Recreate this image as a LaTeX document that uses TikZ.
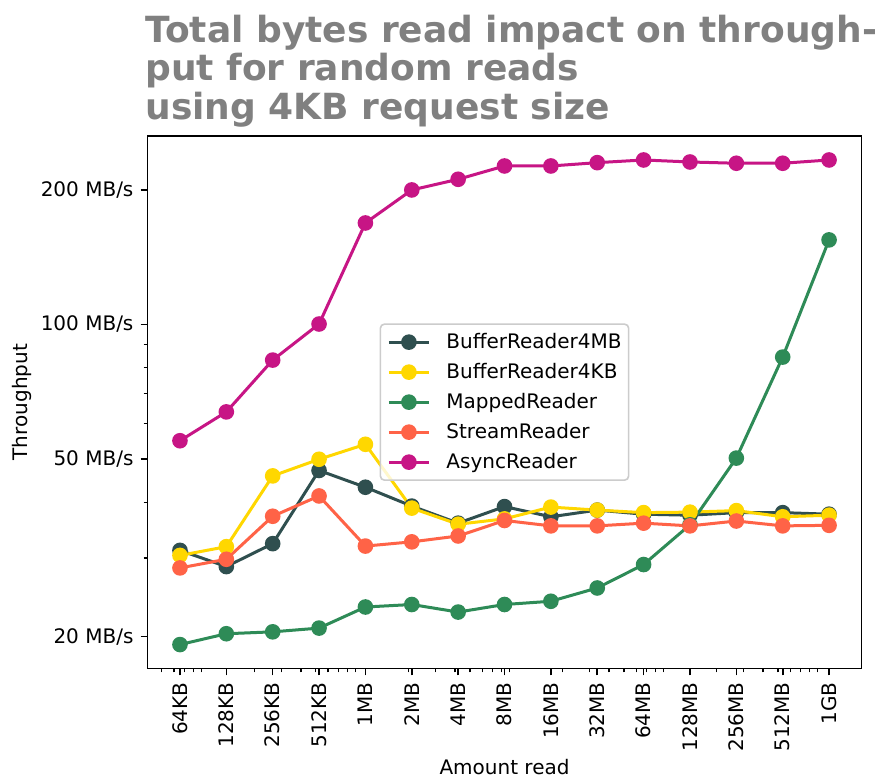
\documentclass[tikz,border=0pt]{standalone}
\usepackage{fontspec}
\setmainfont{DejaVu Sans}
\usepackage{pgfplots}
\pgfplotsset{compat=1.18}
\usetikzlibrary{positioning}
\definecolor{bufmb}{HTML}{2F4F4F}
\definecolor{bufkb}{HTML}{FFD700}
\definecolor{mapped}{HTML}{2E8B57}
\definecolor{stream}{HTML}{FF6347}
\definecolor{async}{HTML}{C71585}
\definecolor{titlegray}{HTML}{808080}
\definecolor{legendedge}{HTML}{CCCCCC}

%=== MEASURED THROUGHPUT (MB/s) ===
\pgfplotstableread{
bytes       bufmb bufkb mapped stream async
65536       31.2  30.4  19.2   28.5   54.9
131072      28.7  31.8  20.3   29.8   63.7
262144      32.3  45.8  20.5   37.2   83.2
524288      47.1  49.9  20.9   41.3  100.2
1048576     43.2  53.9  23.3   31.9  168.7
2097152     39.2  38.8  23.6   32.6  200.0
4194304     35.9  35.7  22.7   33.6  211.3
8388608     39.1  36.7  23.6   36.4  226.3
16777216    37.1  39.0  24.0   35.4  226.3
33554432    38.4  38.4  25.7   35.4  230.2
67108864    37.6  37.9  29.0   35.9  233.4
134217728   37.4  38.0  35.6   35.4  231.0
268435456   37.9  38.3  50.2   36.3  229.5
536870912   37.9  37.1  84.5   35.4  229.5
1073741824  37.6  37.4 154.6   35.5  233.4
}\readdata

\begin{document}
\begin{tikzpicture}[
  titletext/.style={
    anchor=north west, inner sep=0pt, align=left,
    font=\fontsize{18}{19.4}\selectfont\bfseries, text=titlegray
  },
  readerline/.style={
    color=#1, line width=1.5pt,
    mark=*, mark size=3.4pt, mark options={solid, line width=1pt}
  }
]
\path[use as bounding box, fill=white] (0pt,0pt) rectangle (438.5pt,389pt);

%=== TITLE ===
\node[titletext] (title) at (72.5pt,381.8pt)
  {Total bytes read impact on through-\\put for random reads\\using 4KB request size};

%=== PLOT ===
\begin{axis}[
  name=plot,
  at={(73.75pt,54.75pt)}, anchor=south west,
  scale only axis, width=357pt, height=266.35pt,
  xmode=log, ymode=log,
  xmin=40342, xmax=1.7443e9, ymin=16.97, ymax=264.4,
  xtick={65536,131072,262144,524288,1048576,2097152,4194304,8388608,
    16777216,33554432,67108864,134217728,268435456,536870912,1073741824},
  xticklabels={64KB,128KB,256KB,512KB,1MB,2MB,4MB,8MB,
    16MB,32MB,64MB,128MB,256MB,512MB,1GB},
  minor xtick={5e4,6e4,7e4,8e4,9e4,
    2e5,3e5,4e5,5e5,6e5,7e5,8e5,9e5,
    2e6,3e6,4e6,5e6,6e6,7e6,8e6,9e6,
    2e7,3e7,4e7,5e7,6e7,7e7,8e7,9e7,
    2e8,3e8,4e8,5e8,6e8,7e8,8e8,9e8},
  ytick={20,50,100,200},
  yticklabels={20 MB/s,50 MB/s,100 MB/s,200 MB/s},
  minor ytick={30,40,60,70,80,90},
  tick pos=left, tick align=outside,
  major tick length=3.5pt, minor tick length=2pt,
  major tick style={black, line width=0.8pt},
  minor tick style={black, line width=0.6pt},
  axis line style={line width=0.8pt},
  ticklabel style={font=\fontsize{10}{12}\selectfont},
  xticklabel style={rotate=90, anchor=east},
  label style={font=\fontsize{10}{12}\selectfont},
  xlabel={Amount read}, ylabel={Throughput},
  xlabel style={yshift=3pt},
  ylabel style={yshift=-2.5pt},
  legend cell align=left,
  legend image code/.code={
    \draw[opacity=1, mark repeat=2, mark phase=2, #1]
      plot coordinates {(0pt,0pt) (10pt,0pt) (20pt,0pt)};
    \path (28pt,0pt);
  },
  legend style={
    at={(0.5,0.5)}, anchor=center,
    draw=legendedge, line width=0.8pt, rounded corners=2pt,
    fill=white, fill opacity=0.8, text opacity=1,
    font=\fontsize{10}{12}\selectfont,
    inner xsep=3.5pt, inner ysep=4pt, row sep=5pt,
    nodes={inner sep=0pt, text height=8.2pt, text depth=1.8pt}
  }
]
\addplot[readerline=bufmb]  table[x=bytes, y=bufmb]  {\readdata};
\addplot[readerline=bufkb]  table[x=bytes, y=bufkb]  {\readdata};
\addplot[readerline=mapped] table[x=bytes, y=mapped] {\readdata};
\addplot[readerline=stream] table[x=bytes, y=stream] {\readdata};
\addplot[readerline=async]  table[x=bytes, y=async]  {\readdata};
\legend{BufferReader4MB,BufferReader4KB,MappedReader,StreamReader,AsyncReader}
\end{axis}
\end{tikzpicture}
\end{document}
